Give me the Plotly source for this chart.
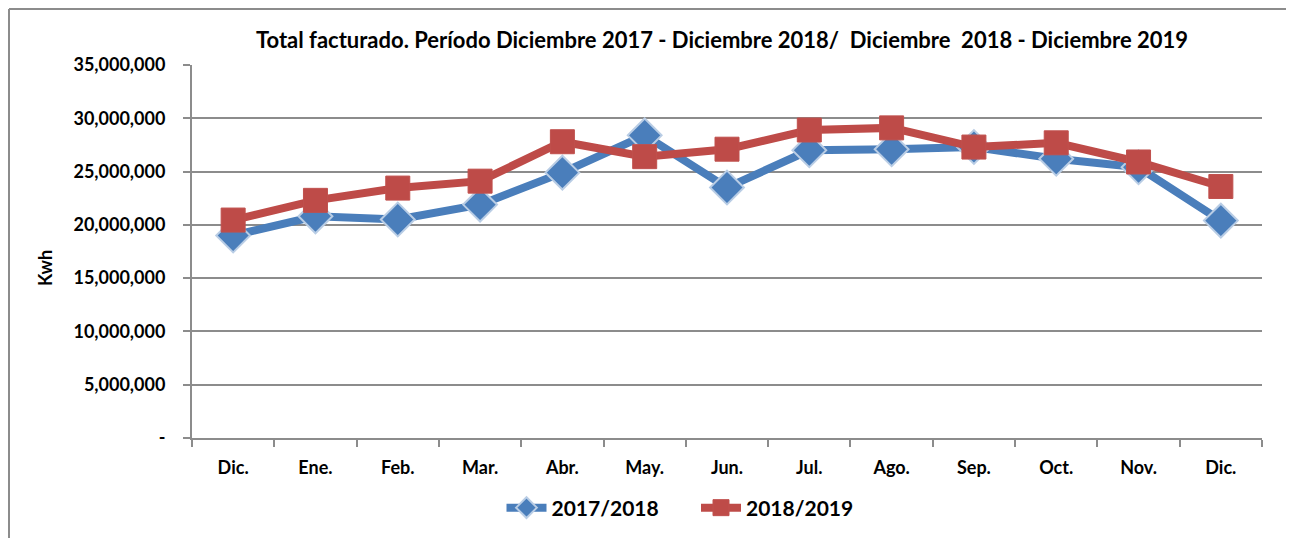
import plotly.graph_objects as go

months = ["Dic.", "Ene.", "Feb.", "Mar.", "Abr.", "May.", "Jun.", "Jul.", "Ago.", "Sep.", "Oct.", "Nov.", "Dic."]
serie_2017_2018 = [19.0e6, 20.8e6, 20.5e6, 21.9e6, 24.9e6, 28.4e6, 23.5e6, 27.0e6, 27.1e6, 27.3e6, 26.2e6, 25.4e6, 20.4e6]
serie_2018_2019 = [20.45e6, 22.3e6, 23.45e6, 24.1e6, 27.8e6, 26.4e6, 27.1e6, 28.9e6, 29.1e6, 27.3e6, 27.7e6, 25.9e6, 23.6e6]
y_ticks = [0, 5e6, 10e6, 15e6, 20e6, 25e6, 30e6, 35e6]
y_tick_labels = ["-", "5,000,000", "10,000,000", "15,000,000", "20,000,000", "25,000,000", "30,000,000", "35,000,000"]

FONT = "Lato"
x = list(range(len(months)))

# page body adds 8px offset; plot area should land at x 192..1262, y 65..438 on screen
L, T = 184, 57
PW, PH = 1070, 373

fig = go.Figure()
fig.add_trace(go.Scatter(
    x=x, y=serie_2017_2018, name="<b>2017/2018</b>" + "\u00a0" * 6, mode="lines+markers",
    line=dict(color="#4a7ebb", width=8),
    marker=dict(symbol="diamond", size=26, color="#4a7ebb", line=dict(color="#b9cde5", width=2)),
))
fig.add_trace(go.Scatter(
    x=x, y=serie_2018_2019, name="<b>2018/2019</b>", mode="lines+markers",
    line=dict(color="#be4b48", width=8),
    marker=dict(symbol="square", size=24, color="#be4b48", line=dict(color="#c0504d", width=1)),
))

fig.update_layout(
    width=1294, height=538,
    margin=dict(l=L, r=1294 - L - PW, t=T, b=538 - T - PH),
    paper_bgcolor="white", plot_bgcolor="white",
    font=dict(family=FONT, color="black"),
    title=dict(
        text="<b>Total facturado. Período Diciembre 2017 - Diciembre 2018/  Diciembre  2018 - Diciembre 2019</b>",
        x=(722 - 8) / 1294, xanchor="center", y=1 - (40 - 8) / 538, yanchor="middle",
        font=dict(family=FONT, size=22, color="black"),
    ),
    showlegend=True,
    legend=dict(
        orientation="h", x=(680 - 192) / PW, xanchor="center", y=(438 - 508) / PH, yanchor="middle",
        font=dict(family=FONT, size=21, color="black"), itemwidth=40,
    ),
    xaxis=dict(
        range=[-0.5, 12.5], tickmode="array", tickvals=x, ticktext=[f"<b>{m}</b>" for m in months],
        ticks="outside", ticklen=0, showgrid=False, zeroline=False,
        showline=True, linecolor="#8c8c8c", linewidth=2,
        tickfont=dict(family=FONT, size=18, color="black"), ticklabelstandoff=12,
        minor=dict(tickmode="linear", tick0=-0.5, dtick=1, ticks="outside", ticklen=7, tickcolor="#8c8c8c", tickwidth=2, showgrid=False),
    ),
    yaxis=dict(
        range=[0, 35e6], tickmode="array", tickvals=y_ticks, ticktext=[f"<b>{t}</b>" for t in y_tick_labels],
        ticks="outside", ticklen=7, tickcolor="#8c8c8c", tickwidth=2,
        showgrid=True, gridcolor="#8c8c8c", gridwidth=2, zeroline=False,
        showline=True, linecolor="#8c8c8c", linewidth=2,
        tickfont=dict(family=FONT, size=18, color="black"), ticklabelstandoff=14,
    ),
    annotations=[dict(
        text="<b>Kwh</b>", xref="paper", yref="paper", x=(45 - 192) / PW, y=(438 - 268) / PH,
        xanchor="center", yanchor="middle", textangle=-90, showarrow=False,
        font=dict(family=FONT, size=18, color="black"),
    )],
)

# outer frame (top and left edges visible)
top_y = (438 - 9) / PH
left_x = (9 - 192) / PW
fig.add_shape(type="line", xref="paper", yref="paper", x0=left_x, x1=1.2, y0=top_y, y1=top_y,
              line=dict(color="#8c8c8c", width=2))
fig.add_shape(type="line", xref="paper", yref="paper", x0=left_x, x1=left_x, y0=top_y, y1=-0.3,
              line=dict(color="#8c8c8c", width=2))

fig.write_html("out.html")
